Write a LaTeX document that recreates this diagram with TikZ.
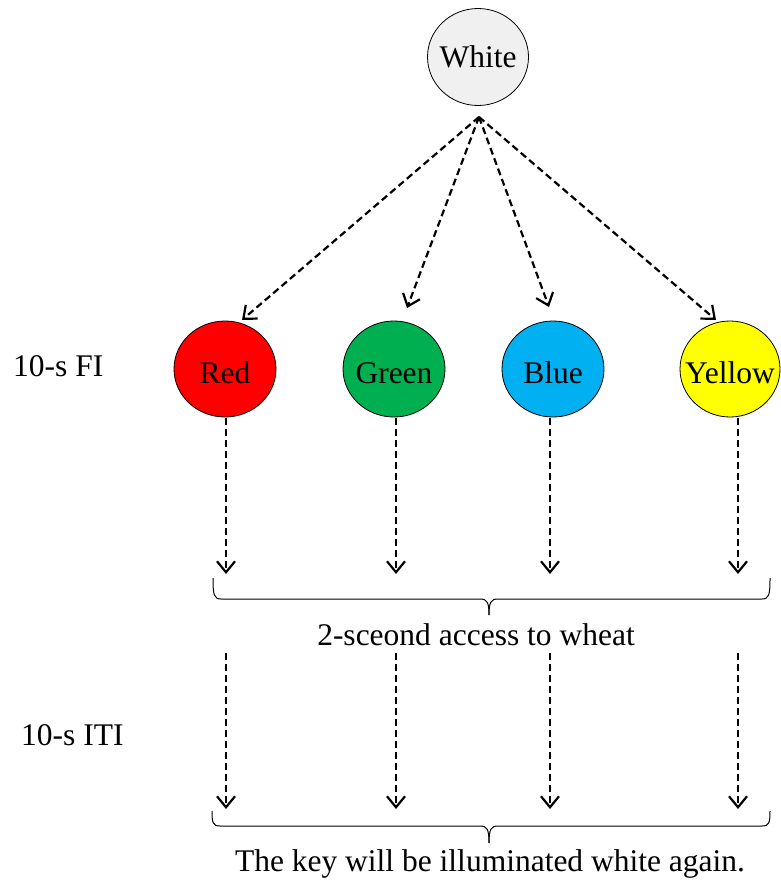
\documentclass[tikz,border=0pt]{standalone}
\usepackage{fontspec}
\setmainfont{Liberation Serif}
\usetikzlibrary{shapes.geometric,arrows.meta}
\definecolor{cwhite}{HTML}{F0F0F0}
\definecolor{cred}{HTML}{FF0000}
\definecolor{cgreen}{HTML}{00B050}
\definecolor{cblue}{HTML}{00B0F0}
\definecolor{cyellow}{HTML}{FFFF00}
\begin{document}
\begin{tikzpicture}[x=1pt,y=-1pt,
  txt/.style={font=\fontsize{31.5}{38}\selectfont, inner sep=0pt},
  ktxt/.style={txt, yshift=-4pt},
  keyc/.style={ellipse, draw=black, line width=0.8pt, minimum width=102pt, minimum height=96pt, inner sep=0pt, fill=#1},
  da/.style={line width=2.2pt, dash pattern=on 7pt off 4pt, -{Straight Barb[length=11pt,width=18pt,line width=2.2pt]}},
  brace/.style={line width=1pt}
]
\useasboundingbox (0,0) rectangle (780,888);

% top key
\node[keyc=cwhite, minimum width=101pt, minimum height=97pt, label={[txt]center:White}] (w) at (478,57) {};

% coloured keys
\node[keyc=cred, label={[ktxt]center:Red}] (r) at (225,369) {};
\node[keyc=cgreen, label={[ktxt]center:Green}] (g) at (394,369) {};
\node[keyc=cblue, label={[ktxt]center:Blue}] (b) at (553,369) {};
\node[keyc=cyellow, minimum width=100pt, label={[ktxt]center:Yellow}] (y) at (730,369) {};

% fan arrows
\coordinate (fan) at (479,117);
\coordinate (er) at (242,320);
\coordinate (eg) at (407,308);
\coordinate (eb) at (549,307);
\coordinate (ey) at (716,320);
\draw[da] (fan) -- (er);
\draw[da] (fan) -- (eg);
\draw[da] (fan) -- (eb);
\draw[da] (fan) -- (ey);

% first vertical arrows
\coordinate (r1) at (226,418);
\coordinate (g1) at (396,418);
\coordinate (b1) at (550,418);
\coordinate (y1) at (738,418);
\draw[da] (r1) -- ++(0,156);
\draw[da] (g1) -- ++(0,156);
\draw[da] (b1) -- ++(0,156);
\draw[da] (y1) -- ++(0,156);

% first brace
\draw[brace] (213,578) .. controls (213,595) and (214,599) .. (221,599) -- (480,599)
  .. controls (487,599) and (489,602) .. (489,615);
\draw[brace] (770,578) .. controls (770,595) and (769,599) .. (762,599) -- (498,599)
  .. controls (491,599) and (489,602) .. (489,615);

\node[txt, anchor=base] (acc) at (476,645) {2-sceond access to wheat};

% second vertical arrows
\coordinate (r2) at (226,653);
\coordinate (g2) at (396,653);
\coordinate (b2) at (550,653);
\coordinate (y2) at (738,653);
\draw[da] (r2) -- ++(0,156);
\draw[da] (g2) -- ++(0,156);
\draw[da] (b2) -- ++(0,156);
\draw[da] (y2) -- ++(0,156);

% second brace
\draw[brace] (212,811) .. controls (212,823) and (213,826) .. (220,826) -- (480,826)
  .. controls (487,826) and (489,829) .. (489,843);
\draw[brace] (770,811) .. controls (770,823) and (769,826) .. (762,826) -- (498,826)
  .. controls (491,826) and (489,829) .. (489,843);

\node[txt, anchor=base] (again) at (490,871) {The key will be illuminated white again.};

% side labels
\node[txt, anchor=base west] (fi) at (13,376) {10-s FI};
\node[txt, anchor=base west] (iti) at (21,745) {10-s ITI};
\end{tikzpicture}
\end{document}
